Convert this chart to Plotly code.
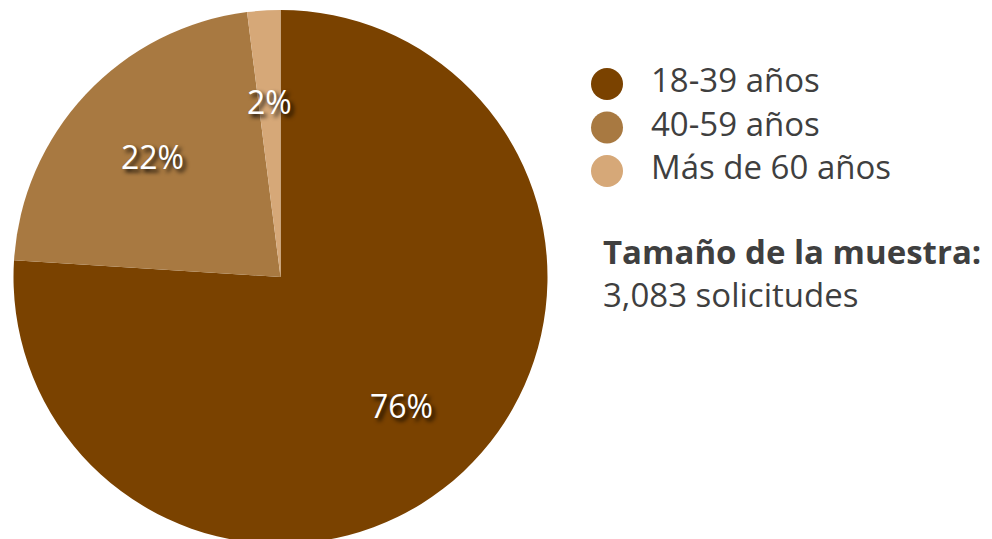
import math
import plotly.graph_objects as go

# ---- data ----
categories = ["18-39 años", "40-59 años", "Más de 60 años"]
values = [76, 22, 2]
colors = ["#7A4200", "#A87941", "#D6A878"]
sample_title = "Tamaño de la muestra:"
sample_text = "3,083 solicitudes"

W, H = 992, 539
FONT = "Open Sans"
TXT = "#3f3f3f"

# pie geometry (figure pixels)
cx, cy_top, R = 272.5, 269, 267
dom_x = [(cx - R) / W, (cx + R) / W]
dom_y = [1 - (cy_top + R) / H, 1 - (cy_top - R) / H]

fig = go.Figure()
fig.add_trace(go.Pie(
    labels=categories, values=values, sort=False, direction="clockwise",
    rotation=0, marker=dict(colors=colors, line=dict(width=0)),
    textinfo="none", hoverinfo="label+percent", showlegend=False,
    domain=dict(x=dom_x, y=dom_y),
))

# slice labels positioned at the middle angle of each slice
total = sum(values)
cum = 0
for v in values:
    mid = (cum + v / 2) / total * 2 * math.pi
    cum += v
    px = cx + 0.66 * R * math.sin(mid)
    py = cy_top - 0.66 * R * math.cos(mid)
    fig.add_annotation(
        x=px / W, y=1 - py / H, xref="paper", yref="paper",
        text=f"{round(v / total * 100)}%", showarrow=False,
        font=dict(family=FONT, size=32, color="white",
                  shadow="3px 3px 4px rgba(0,0,0,0.9)"),
        xanchor="center", yanchor="middle",
    )

# legend drawn as circle markers + text labels
idx = list(range(len(categories)))
fig.add_trace(go.Scatter(
    x=[0] * len(categories), y=idx, mode="markers",
    marker=dict(size=32, color=colors, symbol="circle", line=dict(width=0)),
    hoverinfo="skip", showlegend=False,
))
fig.add_trace(go.Scatter(
    x=[44] * len(categories), y=idx, mode="text", text=categories,
    textposition="middle right",
    textfont=dict(family=FONT, size=33, color=TXT),
    hoverinfo="skip", showlegend=False,
))

step = 43.5
y0 = 76
x0 = 599
fig.update_xaxes(visible=False, range=[-x0, W - x0], domain=[0, 1], fixedrange=True)
fig.update_yaxes(visible=False, range=[(H - y0) / step, -y0 / step], domain=[0, 1], fixedrange=True)

fig.add_annotation(
    x=593 / W, y=1 - 219 / H, xref="paper", yref="paper",
    text=f"<b>{sample_title}</b><br>{sample_text}", showarrow=False,
    xanchor="left", yanchor="top", align="left",
    font=dict(family=FONT, size=33, color=TXT),
)

fig.update_layout(
    width=W, height=H, margin=dict(l=0, r=0, t=0, b=0),
    paper_bgcolor="white", plot_bgcolor="rgba(0,0,0,0)",
    showlegend=False,
)

fig.write_html("out.html")
